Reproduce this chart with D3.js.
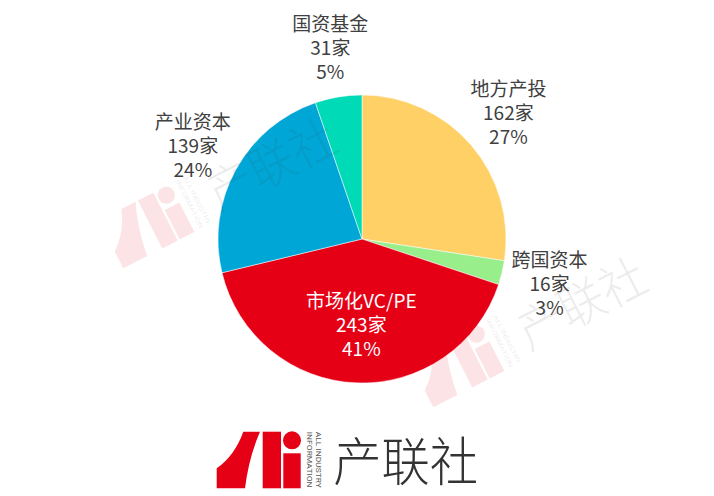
<!DOCTYPE html>
<html>
<head>
<meta charset="utf-8">
<script src="https://cdn.jsdelivr.net/npm/d3@7"></script>
<style>
    html, body { margin: 0; padding: 0; background: #fff; }
    svg { display: block; font-family: "Microsoft YaHei", "Noto Sans CJK SC", sans-serif; }
</style>
</head>
<body>
<svg id="chart"></svg>
<script>
// Data (clockwise from 12 o'clock)
const categories = ['地方产投', '跨国资本', '市场化VC/PE', '产业资本', '国资基金'];
const counts = [162, 16, 243, 139, 31];
const palette = ['#FFD066', '#98EE8B', '#E60016', '#00A6D6', '#00DAB7'];
const unit = '家';

const width = 714;
const height = 496;
const cx = 362;
const cy = 239;
const radius = 144;

const svg = d3.select('#chart')
    .attr('width', width)
    .attr('height', height)
    .attr('viewBox', [0, 0, width, height]);

const color = d3.scaleOrdinal(categories, palette);
const data = categories.map((c, i) => ({ name: c, value: counts[i] }));
const total = d3.sum(counts);

const pie = d3.pie()
    .sort(null)
    .value(d => d.value);

const arcs = pie(data);

const arc = d3.arc().innerRadius(0).outerRadius(radius);
// outside labels sit on this ring, the big slice keeps its label inside
const outerLabelArc = d3.arc().innerRadius(193).outerRadius(193);
const innerLabelArc = d3.arc().innerRadius(86).outerRadius(86);

const chart = svg.append('g')
    .attr('transform', `translate(${cx},${cy})`);

chart.selectAll('path')
    .data(arcs)
    .enter()
    .append('path')
    .attr('d', arc)
    .attr('fill', d => color(d.data.name))
    .attr('stroke', '#fff')
    .attr('stroke-width', 0.5);

// Logo: stylised "Ai" + vertical english + 产联社
function drawLogo(g, redFill, textFill, smallFill) {
    g.append('path')
        .attr('d', 'M26.6,0 L43.3,0 Q32,26 28.3,56.6 L0,56.6 L0,36.6 Q18,24 26.6,0 Z')
        .attr('fill', redFill);
    g.append('rect')
        .attr('x', 46).attr('y', 0).attr('width', 18.3).attr('height', 56.6)
        .attr('fill', redFill);
    g.append('circle')
        .attr('cx', 75.3).attr('cy', 8.6).attr('r', 9)
        .attr('fill', redFill);
    g.append('rect')
        .attr('x', 66.6).attr('y', 21.6).attr('width', 17.4).attr('height', 35)
        .attr('fill', redFill);

    const lines = [['ALL INDUSTRY', 99.5], ['INFORMATION', 90.5]];
    lines.forEach(l => {
        g.append('text')
            .attr('transform', `translate(${l[1]},0) rotate(90)`)
            .attr('font-family', 'Roboto, "DejaVu Sans", sans-serif')
            .attr('font-size', 6.6)
            .attr('textLength', 56)
            .attr('lengthAdjust', 'spacingAndGlyphs')
            .attr('fill', smallFill)
            .text(l[0]);
    });

    g.append('text')
        .attr('x', 116.5)
        .attr('y', 49)
        .attr('font-family', '"Noto Sans CJK SC", sans-serif')
        .attr('font-weight', 300)
        .attr('font-size', 52)
        .attr('textLength', 145)
        .attr('lengthAdjust', 'spacingAndGlyphs')
        .attr('fill', textFill)
        .text('产联社');
}

// faded watermarks laid over the pie
const marks = [[98.9, 220.4], [408.9, 359.4]];
marks.forEach(m => {
    const w = svg.append('g')
        .attr('transform', `translate(${m[0]},${m[1]}) rotate(-27) scale(0.95)`);
    drawLogo(w, 'rgba(230,0,22,0.11)', 'rgba(60,60,60,0.1)', 'rgba(120,120,120,0.15)');
});

// bottom logo
drawLogo(svg.append('g').attr('transform', 'translate(216.7,431.7)'), '#E60016', '#333', '#555');

// Labels
const labels = svg.append('g')
    .attr('transform', `translate(${cx},${cy})`)
    .attr('font-size', 19)
    .attr('text-anchor', 'middle');

const lineGap = 24;

arcs.forEach(d => {
    const inside = d.data.value / total > 0.3;
    const pos = inside ? innerLabelArc.centroid(d) : outerLabelArc.centroid(d);
    const txt = [d.data.name, d.data.value + unit, Math.round(d.data.value / total * 100) + '%'];
    const t = labels.append('text')
        .attr('fill', inside ? '#fff' : '#404040');
    txt.forEach((s, i) => {
        t.append('tspan')
            .attr('x', pos[0] + (inside ? 3 : 0))
            .attr('y', pos[1] + (i - 1) * lineGap)
            .attr('dy', '0.36em')
            .text(s);
    });
});
</script>
</body>
</html>
